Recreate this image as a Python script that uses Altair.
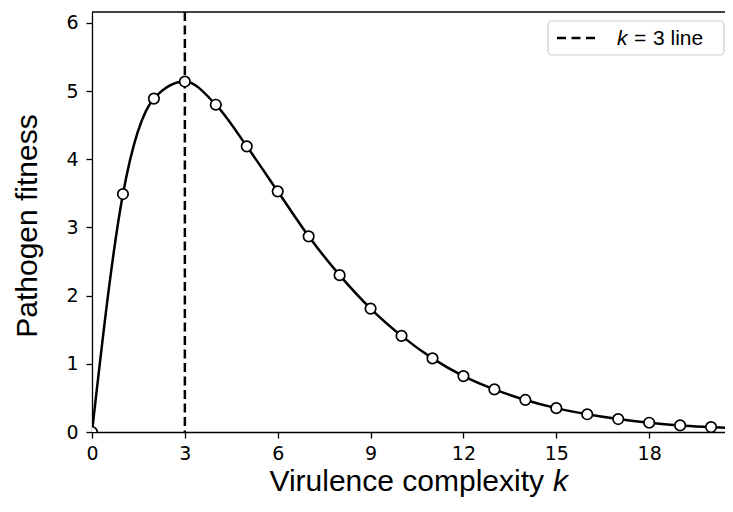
import altair as alt
import pandas as pd

# ---- data ----
k_values = list(range(0, 22))
fitness = [0.0, 3.49, 4.89, 5.14, 4.80, 4.19, 3.53, 2.87, 2.30, 1.81, 1.41,
           1.08, 0.82, 0.625, 0.47, 0.35, 0.26, 0.19, 0.136, 0.097, 0.073, 0.052]
x_ticks = [0, 3, 6, 9, 12, 15, 18]
y_ticks = [0, 1, 2, 3, 4, 5, 6]
k_marker = [3]
x_domain = [0, 20.45]
y_domain = [0, 6.16]

df = pd.DataFrame({"k": k_values, "fitness": fitness})
vline = pd.DataFrame({"k": k_marker})
one = pd.DataFrame({"a": [0]})

W, H = 633, 420

xs = alt.Scale(domain=x_domain, nice=False, zero=False)
ys = alt.Scale(domain=y_domain, nice=False, zero=False)

x_enc = alt.X("k:Q", scale=xs,
              axis=alt.Axis(values=x_ticks, title="", labelPadding=6, labelFlush=False,
                            labelOverlap=False, format="d"))
y_enc = alt.Y("fitness:Q", scale=ys,
              axis=alt.Axis(values=y_ticks, title="", labelPadding=8, labelFlush=False,
                            labelOverlap=False, format="d"))

top_spine = alt.Chart(one).mark_rule(color="black", strokeWidth=1.3).encode(
    x=alt.value(0), x2=alt.value(W), y=alt.value(0))

dashed = alt.Chart(vline).mark_rule(color="black", strokeWidth=2.5, strokeDash=[9, 4.5]).encode(
    x=alt.X("k:Q", scale=xs))

curve = alt.Chart(df).mark_line(color="black", strokeWidth=2.5, interpolate="monotone",
                                clip=True).encode(x=x_enc, y=y_enc)

points = alt.Chart(df).mark_point(shape="circle", filled=True, fill="white", stroke="black",
                                  strokeWidth=1.7, size=110, opacity=1, clip=True).encode(
    x=alt.X("k:Q", scale=xs), y=alt.Y("fitness:Q", scale=ys))

legend_box = alt.Chart(one).mark_rect(fill="white", stroke="#cccccc", strokeWidth=1.2,
                                      cornerRadius=4, opacity=1).encode(
    x=alt.value(456), x2=alt.value(632), y=alt.value(9), y2=alt.value(43))

legend_dash = alt.Chart(one).mark_rule(color="black", strokeWidth=2.5, strokeDash=[9, 5.5]).encode(
    x=alt.value(465), x2=alt.value(505), y=alt.value(26))

lfont = "Liberation Sans"
legend_k = alt.Chart(one).mark_text(text="k", font=lfont, fontSize=21, fontStyle="italic",
                                    align="left", baseline="alphabetic", color="black").encode(
    x=alt.value(525), y=alt.value(33))
legend_eq = alt.Chart(one).mark_text(text="=", font=lfont, fontSize=21,
                                     align="left", baseline="alphabetic", color="black").encode(
    x=alt.value(542), y=alt.value(33))
legend_rest = alt.Chart(one).mark_text(text="3 line", font=lfont, fontSize=21,
                                       align="left", baseline="alphabetic", color="black").encode(
    x=alt.value(561), y=alt.value(33))

tfont = "Liberation Sans"
xtitle_a = alt.Chart(one).mark_text(text="Virulence complexity", font=tfont, fontSize=30,
                                    align="right", baseline="alphabetic", color="black").encode(
    x=alt.value(452), y=alt.value(479))
xtitle_k = alt.Chart(one).mark_text(text="k", font=tfont, fontSize=30, fontStyle="italic",
                                    align="left", baseline="alphabetic", color="black").encode(
    x=alt.value(461), y=alt.value(479))
ytitle = alt.Chart(one).mark_text(text="Pathogen fitness", font=tfont, fontSize=30, angle=270,
                                  align="center", baseline="alphabetic", color="black").encode(
    x=alt.value(-55), y=alt.value(214))

chart = alt.layer(
    dashed, curve, points, top_spine, legend_box, legend_dash, legend_k, legend_eq, legend_rest,
    xtitle_a, xtitle_k, ytitle
).properties(
    width=W, height=H,
    autosize=alt.AutoSizeParams(type="none"),
    padding={"left": 84, "top": 4, "right": 0, "bottom": 68},
    background="white",
).configure_view(strokeWidth=0).configure_axis(
    domainColor="black", domainWidth=1.3, tickColor="black", tickWidth=1.3, tickSize=6,
    labelFont="DejaVu Sans", labelFontSize=19, labelColor="black", grid=False,
)

chart.save("out.html", embed_options={"renderer": "svg", "actions": False})
